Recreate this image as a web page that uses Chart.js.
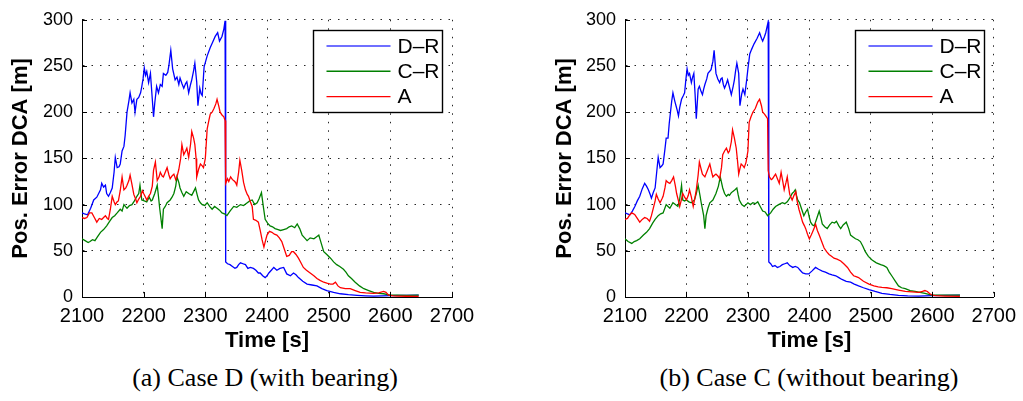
<!DOCTYPE html>
<html>
<head>
<meta charset="utf-8">
<script src="https://cdn.jsdelivr.net/npm/chart.js@4.4.1/dist/chart.umd.min.js"></script>
<style>
  html, body { margin: 0; padding: 0; background: #fff; }
  #wrap { position: relative; width: 1023px; height: 401px; overflow: hidden; background: #fff; }
  canvas { position: absolute; top: 0; }
  .cap { position: absolute; top: 362px; font-family: "Liberation Serif", "Times New Roman", serif;
         font-size: 26px; line-height: 32px; white-space: nowrap; transform: translateX(-50%); color: #000; }
</style>
</head>
<body>
<div id="wrap">
  <canvas id="chartD" width="512" height="360" style="left:0px"></canvas>
  <canvas id="chartC" width="511" height="360" style="left:512px"></canvas>
  <div class="cap" style="left:265px">(a) Case D (with bearing)</div>
  <div class="cap" style="left:809px">(b) Case C (without bearing)</div>
</div>
<script>
// ---- data: [time (s), position error DCA (m)] ----
const seriesLabels = ['D\u2013R', 'C\u2013R', 'A'];
const xTicks = [2100, 2200, 2300, 2400, 2500, 2600, 2700];
const yTicks = [0, 50, 100, 150, 200, 250, 300];

// Case D (with bearing)
const caseD_DR = [[2100,91],[2104,90],[2109,89],[2114,96],[2119,105],[2124,108],[2130,116],[2132,123],[2135,119],[2138,121],[2140,112],[2143,109],[2146,113],[2149,118],[2152,135],[2154,151],[2157,140],[2160,141],[2162,144],[2165,158],[2168,163],[2170,175],[2173,200],[2176,212],[2178,221],[2181,210],[2184,214],[2186,200],[2189,214],[2192,216],[2195,221],[2197,228],[2199,236],[2201,248],[2203,240],[2205,244],[2208,232],[2211,242],[2214,214],[2216,195],[2218,210],[2221,228],[2224,221],[2227,230],[2230,228],[2232,242],[2236,240],[2239,243],[2241,251],[2244,267],[2247,247],[2251,235],[2254,238],[2257,230],[2259,237],[2262,231],[2265,226],[2268,231],[2270,233],[2273,221],[2276,230],[2278,235],[2281,245],[2283,253],[2286,233],[2288,207],[2291,226],[2293,220],[2295,218],[2298,249],[2303,261],[2308,270],[2312,276],[2316,282],[2320,286],[2323,277],[2327,282],[2330,290],[2332,299],[2333,38],[2336,36],[2340,35],[2344,33],[2348,31],[2351,32],[2354,35],[2357,37],[2361,36],[2365,35],[2369,31],[2373,32],[2378,31],[2382,29],[2386,26],[2389,26],[2393,23],[2397,21],[2400,23],[2403,26],[2407,29],[2411,32],[2416,29],[2421,31],[2427,32],[2432,25],[2438,23],[2443,26],[2447,24],[2451,21],[2458,17],[2465,14],[2473,13],[2481,12],[2489,9],[2497,7],[2508,5],[2519,3.5],[2532,2.5],[2546,1.8],[2560,1.3],[2573,1],[2587,1.2],[2600,1.4],[2620,1.7],[2646,2]];
const caseD_CR = [[2100,63],[2105,61],[2110,59],[2113,60],[2117,62],[2121,61],[2125,65],[2130,70],[2135,73],[2140,77],[2145,82],[2149,86],[2153,88],[2157,91],[2162,95],[2165,93],[2168,100],[2173,96],[2177,99],[2181,100],[2185,104],[2189,109],[2192,112],[2194,121],[2197,105],[2201,104],[2205,103],[2209,108],[2212,104],[2214,105],[2218,112],[2222,121],[2224,109],[2226,96],[2228,85],[2230,74],[2232,95],[2235,98],[2238,102],[2243,105],[2246,108],[2249,112],[2252,120],[2254,130],[2257,124],[2259,118],[2262,113],[2265,109],[2269,114],[2273,112],[2278,110],[2281,114],[2284,118],[2287,110],[2289,105],[2292,102],[2295,100],[2299,99],[2303,102],[2307,98],[2311,95],[2315,98],[2319,96],[2323,94],[2327,91],[2331,90],[2335,88],[2340,93],[2346,98],[2351,97],[2357,100],[2362,99],[2368,102],[2372,104],[2376,105],[2380,100],[2384,102],[2387,106],[2391,113],[2394,98],[2397,84],[2401,80],[2405,77],[2409,76],[2413,74],[2418,73],[2422,72],[2427,73],[2432,74],[2436,76],[2440,77],[2445,75],[2449,79],[2453,74],[2457,67],[2461,64],[2465,61],[2470,64],[2476,63],[2480,65],[2484,67],[2488,58],[2492,49],[2497,46],[2503,42],[2508,38],[2513,35],[2518,33],[2524,30],[2528,27],[2532,23],[2537,20],[2543,16],[2550,12],[2557,9],[2565,7],[2573,5],[2581,4],[2589,3.5],[2600,2],[2612,2],[2627,1.8],[2646,2]];
const caseD_A = [[2100,86],[2104,85],[2108,86],[2112,91],[2116,91],[2120,86],[2124,81],[2128,85],[2132,84],[2135,86],[2138,88],[2141,85],[2143,84],[2146,95],[2149,109],[2152,103],[2154,100],[2157,103],[2159,104],[2162,115],[2165,130],[2168,116],[2171,118],[2173,121],[2176,126],[2178,132],[2181,122],[2184,111],[2187,106],[2189,102],[2192,106],[2195,109],[2198,115],[2200,112],[2203,108],[2205,105],[2208,109],[2211,112],[2214,120],[2216,137],[2219,146],[2222,126],[2225,130],[2227,135],[2230,131],[2232,130],[2235,135],[2238,140],[2241,132],[2243,128],[2246,131],[2249,133],[2252,127],[2254,130],[2257,138],[2260,150],[2262,165],[2265,154],[2268,158],[2270,161],[2273,151],[2276,165],[2278,179],[2281,172],[2283,165],[2285,150],[2286,130],[2289,138],[2292,144],[2295,142],[2297,140],[2300,150],[2303,182],[2306,192],[2308,198],[2311,200],[2314,204],[2317,209],[2319,214],[2322,206],[2324,200],[2327,197],[2330,195],[2332,191],[2333,123],[2336,128],[2338,125],[2341,130],[2344,127],[2346,126],[2349,124],[2351,121],[2354,135],[2356,148],[2359,137],[2362,124],[2365,116],[2368,111],[2370,109],[2373,103],[2376,98],[2378,84],[2382,83],[2386,81],[2389,72],[2392,62],[2395,54],[2398,62],[2400,67],[2404,71],[2408,70],[2412,68],[2416,67],[2420,64],[2424,60],[2428,52],[2432,44],[2436,45],[2440,49],[2443,49],[2447,46],[2451,42],[2455,37],[2459,32],[2464,29],[2470,26],[2476,23],[2481,20],[2486,18],[2492,16],[2497,15],[2503,14],[2507,14],[2511,16],[2515,12],[2519,10],[2527,9],[2535,9],[2543,7],[2551,5],[2560,4.5],[2573,4],[2581,4.5],[2589,6],[2593,5],[2597,2],[2605,1.2],[2611,1],[2625,0.8],[2646,0.7]];

// Case C (without bearing)
const caseC_DR = [[2100,91],[2104,90],[2108,89],[2112,93],[2116,98],[2120,104],[2124,109],[2128,117],[2132,123],[2135,120],[2138,116],[2141,111],[2143,107],[2146,113],[2149,118],[2152,138],[2154,151],[2157,140],[2160,142],[2162,144],[2165,160],[2167,172],[2170,172],[2172,188],[2174,200],[2176,212],[2178,221],[2181,212],[2183,207],[2185,202],[2187,196],[2189,205],[2192,214],[2195,218],[2197,221],[2199,235],[2201,247],[2203,240],[2205,242],[2208,232],[2210,238],[2212,242],[2214,220],[2216,193],[2219,225],[2221,228],[2224,222],[2226,219],[2228,225],[2230,230],[2233,236],[2235,242],[2240,246],[2243,255],[2245,267],[2248,242],[2251,236],[2254,232],[2256,236],[2258,237],[2260,230],[2262,226],[2265,231],[2267,235],[2270,227],[2273,219],[2276,228],[2278,235],[2280,245],[2282,253],[2285,242],[2287,207],[2290,220],[2292,225],[2295,219],[2298,235],[2300,247],[2303,263],[2306,268],[2310,274],[2315,280],[2319,286],[2322,280],[2324,277],[2327,282],[2329,286],[2331,292],[2333,298],[2334,38],[2337,36],[2340,33],[2344,34],[2348,32],[2352,33],[2356,35],[2360,36],[2364,37],[2368,34],[2373,32],[2377,33],[2381,32],[2385,29],[2389,26],[2394,25],[2399,25],[2404,28],[2410,32],[2415,30],[2421,28],[2426,27],[2432,25],[2437,24],[2443,23],[2448,21],[2453,19],[2460,17],[2467,16],[2473,14],[2480,12],[2488,10],[2497,8],[2507,6],[2518,4],[2531,2.8],[2545,1.8],[2560,1.3],[2578,1],[2599,1.4],[2620,1.7],[2645,2]];
const caseC_CR = [[2100,63],[2105,60],[2111,58],[2115,60],[2119,61],[2124,63],[2130,67],[2135,70],[2140,74],[2145,80],[2149,84],[2154,88],[2158,90],[2162,91],[2167,100],[2170,98],[2173,96],[2178,102],[2182,100],[2186,98],[2189,106],[2192,121],[2194,105],[2197,104],[2200,105],[2204,103],[2208,102],[2213,105],[2216,112],[2219,121],[2222,110],[2224,102],[2226,95],[2228,88],[2230,74],[2232,88],[2235,96],[2238,102],[2243,105],[2248,112],[2252,120],[2255,130],[2257,124],[2259,118],[2262,112],[2265,109],[2268,111],[2270,110],[2273,113],[2275,114],[2279,116],[2282,118],[2284,111],[2286,105],[2290,100],[2294,98],[2297,100],[2300,102],[2304,100],[2308,102],[2312,101],[2316,103],[2320,98],[2324,93],[2328,92],[2332,88],[2337,91],[2341,95],[2345,98],[2350,100],[2356,102],[2360,101],[2364,103],[2368,107],[2372,112],[2375,114],[2377,116],[2379,110],[2381,105],[2384,102],[2386,98],[2389,92],[2391,88],[2394,92],[2397,95],[2400,86],[2402,81],[2405,78],[2408,77],[2412,85],[2416,93],[2419,85],[2421,79],[2425,76],[2429,74],[2433,78],[2437,81],[2441,80],[2444,82],[2448,77],[2451,74],[2455,78],[2460,81],[2464,74],[2467,67],[2471,65],[2475,63],[2479,62],[2483,60],[2487,55],[2491,49],[2496,44],[2502,40],[2509,37],[2516,35],[2521,34],[2526,32],[2530,27],[2534,23],[2540,17],[2545,12],[2550,10],[2556,9],[2564,7],[2572,6],[2580,5],[2588,4],[2599,2],[2620,2],[2645,2]];
const caseC_A = [[2100,84],[2104,85],[2108,89],[2111,91],[2114,90],[2116,89],[2120,85],[2124,81],[2128,84],[2132,86],[2136,85],[2140,82],[2143,88],[2146,96],[2149,104],[2151,111],[2154,106],[2157,102],[2160,106],[2162,109],[2165,118],[2167,126],[2170,124],[2173,123],[2176,126],[2179,130],[2182,120],[2184,112],[2187,104],[2189,98],[2192,106],[2194,112],[2197,108],[2200,105],[2203,110],[2205,116],[2208,108],[2211,98],[2214,108],[2216,116],[2219,132],[2221,146],[2224,138],[2226,133],[2230,130],[2234,137],[2238,144],[2241,135],[2243,130],[2246,132],[2248,133],[2251,131],[2254,128],[2257,140],[2259,154],[2262,158],[2265,161],[2268,156],[2270,158],[2273,168],[2275,181],[2278,172],[2281,161],[2283,148],[2285,133],[2287,139],[2289,144],[2292,142],[2294,140],[2297,146],[2300,158],[2302,189],[2305,195],[2308,200],[2312,204],[2316,211],[2319,214],[2322,207],[2324,200],[2327,198],[2329,196],[2332,193],[2333,137],[2335,130],[2338,127],[2340,128],[2343,131],[2345,133],[2348,128],[2351,123],[2354,135],[2357,124],[2359,116],[2362,124],[2364,130],[2366,120],[2368,111],[2370,108],[2372,105],[2375,110],[2378,114],[2380,104],[2383,95],[2386,88],[2389,81],[2392,77],[2394,74],[2397,68],[2400,63],[2403,67],[2405,70],[2408,75],[2410,79],[2413,72],[2416,67],[2420,60],[2424,53],[2428,49],[2432,46],[2436,44],[2440,42],[2445,41],[2451,39],[2456,36],[2462,32],[2467,27],[2472,23],[2476,22],[2480,21],[2488,17],[2497,14],[2505,12],[2512,11],[2518,10.5],[2526,10],[2534,9],[2545,7.5],[2556,6],[2567,5.5],[2578,5],[2584,6],[2588,7],[2592,6],[2596,3.5],[2600,2],[2605,1.4],[2620,1],[2645,0.7]];

// ---- styling ----
const FONT = '"Liberation Sans", Arial, Helvetica, sans-serif';
const lineColors = ['#0000ff', '#008000', '#ff0000'];
const legendLineColors = ['#6f6fff', '#008000', '#ff0000'];
const legendLineWidths = [2.2, 1.4, 1.4];

// small inward tick marks on the left and bottom axes
const insideTicks = {
  id: 'insideTicks',
  afterDatasetsDraw(chart) {
    const {ctx, chartArea: a, scales: {x, y}} = chart;
    ctx.save();
    ctx.strokeStyle = '#000';
    ctx.lineWidth = 1;
    ctx.beginPath();
    x.ticks.forEach(t => {
      const px = Math.round(x.getPixelForValue(t.value)) + 0.5;
      ctx.moveTo(px, a.bottom); ctx.lineTo(px, a.bottom - 5);
    });
    y.ticks.forEach(t => {
      const py = Math.round(y.getPixelForValue(t.value)) + 0.5;
      ctx.moveTo(a.left, py); ctx.lineTo(a.left + 5, py);
    });
    ctx.stroke();
    ctx.restore();
  }
};

// boxed legend in the upper right corner of the plot area
const boxLegend = {
  id: 'boxLegend',
  afterDraw(chart) {
    const {ctx, chartArea: a} = chart;
    const w = 129, h = 82;
    const bx = Math.round(a.right - 10 - w) + 0.5, by = Math.round(a.top + 10) + 0.5;
    ctx.save();
    ctx.fillStyle = '#fff';
    ctx.fillRect(bx, by, w, h);
    ctx.strokeStyle = '#000';
    ctx.lineWidth = 1.4;
    ctx.strokeRect(bx, by, w, h);
    ctx.font = '21px ' + FONT;
    ctx.textBaseline = 'middle';
    ctx.fillStyle = '#000';
    chart.data.datasets.forEach((ds, i) => {
      const ly = by + 15.5 + i * 25.3;
      ctx.beginPath();
      ctx.strokeStyle = legendLineColors[i];
      ctx.lineWidth = legendLineWidths[i];
      ctx.moveTo(bx + 13, ly); ctx.lineTo(bx + 77, ly);
      ctx.stroke();
      ctx.fillText(ds.label, bx + 84, ly + 1);
    });
    ctx.restore();
  }
};

function toPoints(arr) { return arr.map(p => ({x: p[0], y: p[1]})); }

function makeChart(canvasId, seriesList, padLeft, padRight, yWidth) {
  return new Chart(document.getElementById(canvasId), {
    type: 'line',
    data: {
      datasets: seriesList.map((s, i) => ({
        label: seriesLabels[i],
        data: toPoints(s),
        borderColor: lineColors[i],
        borderWidth: 1.3,
        pointRadius: 0,
        tension: 0,
        fill: false,
        order: 3 - i
      }))
    },
    options: {
      responsive: false,
      animation: false,
      devicePixelRatio: 1,
      events: [],
      layout: { padding: { top: 12, right: padRight, bottom: 0, left: padLeft } },
      plugins: { legend: { display: false }, tooltip: { enabled: false } },
      scales: {
        x: {
          type: 'linear',
          min: 2100, max: 2700,
          afterBuildTicks: s => { s.ticks = xTicks.map(v => ({value: v})); },
          afterFit: s => { s.height = 63; },
          grid: { color: 'rgba(0,0,0,0.85)', lineWidth: 1, drawTicks: false },
          border: { display: true, color: '#000', width: 1, dash: [1.5, 7] },
          ticks: { color: '#000', padding: 7, maxRotation: 0, font: { family: FONT, size: 20 },
                   callback: v => String(v) },
          title: { display: true, text: 'Time [s]', color: '#000',
                   font: { family: FONT, size: 22, weight: 'bold' }, padding: { top: 0, bottom: 6 } }
        },
        y: {
          type: 'linear',
          min: 0, max: 300,
          afterBuildTicks: s => { s.ticks = yTicks.map(v => ({value: v})); },
          afterFit: s => { s.width = yWidth; },
          grid: { color: 'rgba(0,0,0,0.85)', lineWidth: 1, drawTicks: false },
          border: { display: true, color: '#000', width: 1, dash: [1.5, 7] },
          ticks: { color: '#000', padding: 9, font: { family: FONT, size: 18 },
                   callback: v => String(v) },
          title: { display: true, text: 'Pos. Error DCA [m]', color: '#000',
                   font: { family: FONT, size: 22, weight: 'bold' }, padding: { top: 8, bottom: 0 } }
        }
      }
    },
    plugins: [insideTicks, boxLegend]
  });
}

makeChart('chartD', [caseD_DR, caseD_CR, caseD_A], 0, 60, 82);
makeChart('chartC', [caseC_DR, caseC_CR, caseC_A], 32, 27, 81);
</script>
</body>
</html>
